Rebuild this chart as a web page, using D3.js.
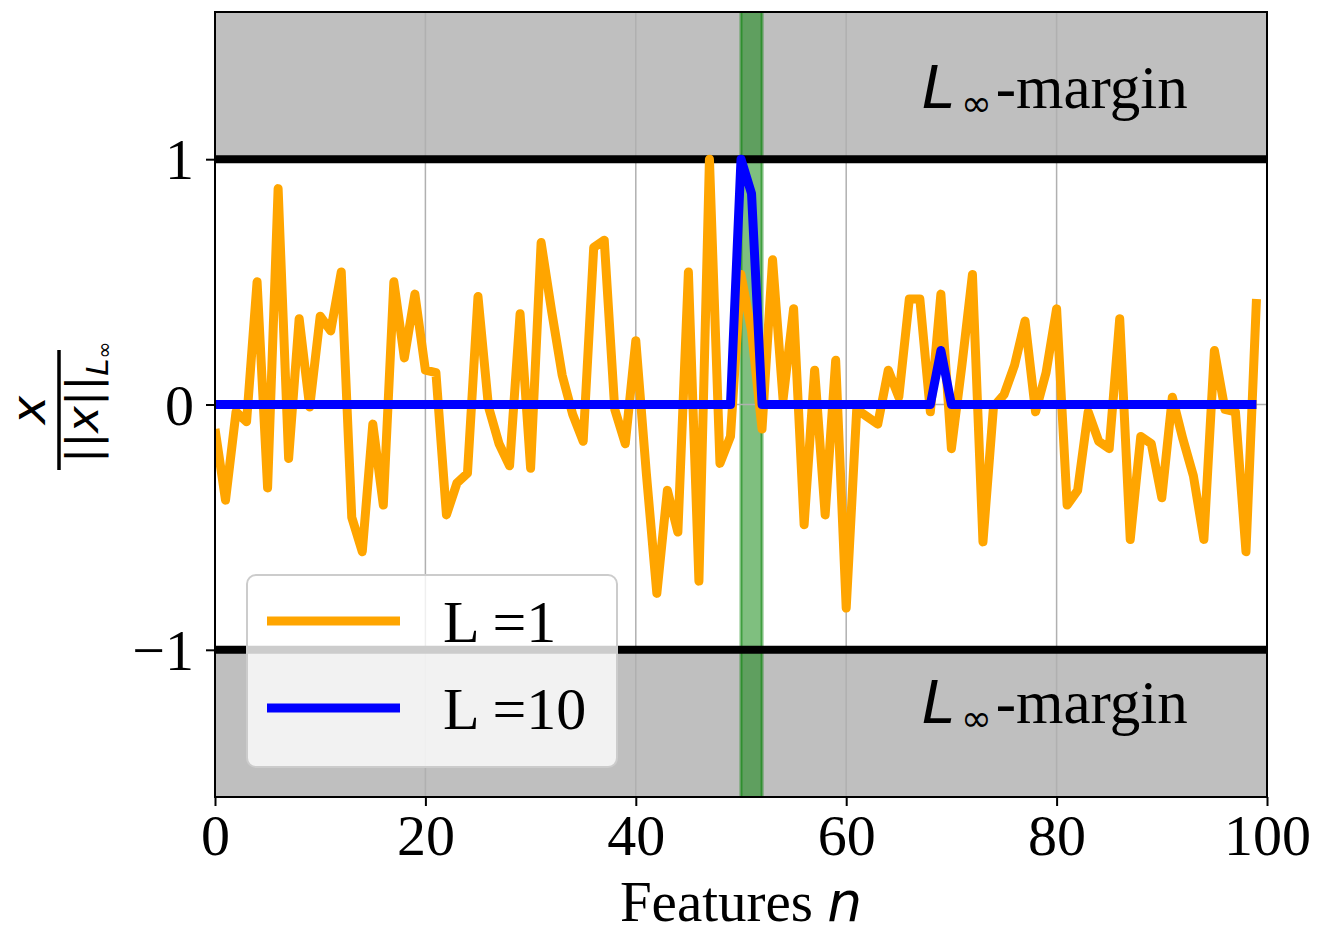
<!DOCTYPE html>
<html>
<head>
<meta charset="utf-8">
<script src="https://cdn.jsdelivr.net/npm/d3@7"></script>
<style>
  html, body { margin: 0; padding: 0; background: #fff; }
  svg { display: block; }
</style>
</head>
<body>
<svg id="chart" width="1322" height="934"></svg>
<script>
// ---------- data ----------
const features = d3.range(0, 100);
const seriesL1 = [
  -0.10, -0.39, -0.03, -0.07, 0.50, -0.34, 0.88, -0.22, 0.35, -0.01,
   0.36,  0.30,  0.54, -0.46, -0.60, -0.08, -0.41, 0.50, 0.19, 0.45,
   0.14,  0.13, -0.45, -0.32, -0.28,  0.44, -0.01, -0.16, -0.25, 0.37,
  -0.26,  0.66,  0.38,  0.12, -0.04, -0.15,  0.64,  0.67, -0.02, -0.16,
   0.26, -0.28, -0.77, -0.35, -0.52,  0.54, -0.72,  1.00, -0.24, -0.13,
   0.53,  0.30, -0.10,  0.59,  0.02,  0.39, -0.49,  0.14, -0.45, 0.18,
  -0.83, -0.02, -0.05, -0.08,  0.14,  0.03,  0.43,  0.43, -0.03, 0.45,
  -0.18,  0.16,  0.53, -0.56, -0.01,  0.04,  0.16,  0.34, -0.03, 0.13,
   0.39, -0.41, -0.35, -0.03, -0.15, -0.18,  0.35, -0.55, -0.13, -0.16,
  -0.38,  0.03, -0.14, -0.29, -0.55,  0.22, -0.02, -0.03, -0.60, 0.43
];
const seriesL10 = features.map(i => i === 50 ? 1.0 : i === 51 ? 0.86 : i === 69 ? 0.22 : 0);
const seriesNames = ["L =1", "L =10"];
const seriesColors = ["#ffa500", "#0000ff"];
const xTicks = [0, 20, 40, 60, 80, 100];
const yTicks = [-1, 0, 1];
const yTickLabels = ["\u22121", "0", "1"];
const marginBands = [[1, 1.6], [-1.6, -1]];
const highlightSpan = [50, 52];
const marginText = "-margin";

// ---------- layout ----------
const svg = d3.select("#chart");
const L = 215, R = 1267, T = 12, B = 797;
const x = d3.scaleLinear().domain([0, 100]).range([L, R]);
const y = d3.scaleLinear().domain([-1.6, 1.6]).range([B, T]);

svg.append("defs").append("clipPath").attr("id", "clip")
  .append("rect").attr("x", L).attr("y", T).attr("width", R - L).attr("height", B - T);

const plot = svg.append("g").attr("clip-path", "url(#clip)");

// gray margin bands
plot.selectAll("rect.band").data(marginBands).enter().append("rect")
  .attr("class", "band")
  .attr("x", L).attr("width", R - L)
  .attr("y", d => y(d[1])).attr("height", d => y(d[0]) - y(d[1]))
  .attr("fill", "#808080").attr("fill-opacity", 0.5);

// green highlight span
plot.append("rect")
  .attr("x", x(highlightSpan[0])).attr("width", x(highlightSpan[1]) - x(highlightSpan[0]))
  .attr("y", T - 5).attr("height", B - T + 10)
  .attr("fill", "#008000").attr("fill-opacity", 0.5)
  .attr("stroke", "#008000").attr("stroke-opacity", 0.5).attr("stroke-width", 3);

// grid
plot.selectAll("line.gx").data(xTicks).enter().append("line")
  .attr("x1", d => x(d)).attr("x2", d => x(d)).attr("y1", T).attr("y2", B)
  .attr("stroke", "#b0b0b0").attr("stroke-width", 1.5);
plot.selectAll("line.gy").data(yTicks).enter().append("line")
  .attr("y1", d => y(d)).attr("y2", d => y(d)).attr("x1", L).attr("x2", R)
  .attr("stroke", "#b0b0b0").attr("stroke-width", 1.5);

// black margin lines
plot.selectAll("line.hm").data([1, -1]).enter().append("line")
  .attr("x1", L).attr("x2", R).attr("y1", d => y(d)).attr("y2", d => y(d))
  .attr("stroke", "#000").attr("stroke-width", 8);

// series lines
const line = d3.line().x((d, i) => x(features[i])).y(d => y(d));
[seriesL1, seriesL10].forEach((s, k) => {
  plot.append("path").datum(s)
    .attr("d", line)
    .attr("fill", "none")
    .attr("stroke", seriesColors[k])
    .attr("stroke-width", 9)
    .attr("stroke-linejoin", "round")
    .attr("stroke-linecap", "butt");
});

// margin labels
const mathFont = "DejaVu Sans, sans-serif";
const serifFont = "Liberation Serif, Times New Roman, serif";
[[1.207, 922], [-1.297, 922]].forEach(([v, px]) => {
  const t = svg.append("text").attr("x", px).attr("y", y(v))
    .attr("font-family", serifFont).attr("font-size", 61).attr("fill", "#000");
  t.append("tspan").attr("font-family", mathFont).attr("font-style", "italic").attr("font-size", 59).text("L");
  t.append("tspan").attr("font-family", mathFont).attr("font-size", 37).attr("dx", 6).attr("dy", 8).text("\u221e");
  t.append("tspan").attr("dy", -8).attr("dx", 4).text(marginText);
});

// frame
svg.append("rect").attr("x", L).attr("y", T).attr("width", R - L).attr("height", B - T)
  .attr("fill", "none").attr("stroke", "#000").attr("stroke-width", 2);

// axes
const xAxis = d3.axisBottom(x).tickValues(xTicks).tickSize(9).tickPadding(8).tickFormat(d3.format("d"));
const gx = svg.append("g").attr("transform", `translate(0,${B})`).call(xAxis);
gx.select(".domain").remove();
gx.selectAll("line").attr("stroke", "#000").attr("stroke-width", 2);
gx.selectAll("text").attr("font-family", serifFont).attr("font-size", 58).attr("fill", "#000")
  .attr("dy", "0.71em");

const yAxis = d3.axisLeft(y).tickValues(yTicks).tickSize(9).tickPadding(12)
  .tickFormat((d, i) => yTickLabels[i]);
const gy = svg.append("g").attr("transform", `translate(${L},0)`).call(yAxis);
gy.select(".domain").remove();
gy.selectAll("line").attr("stroke", "#000").attr("stroke-width", 2);
gy.selectAll("text").attr("font-family", serifFont).attr("font-size", 58).attr("fill", "#000")
  .attr("dy", "0.34em");

// x label
const xl = svg.append("text").attr("x", (L + R) / 2).attr("y", 921).attr("text-anchor", "middle")
  .attr("font-family", serifFont).attr("font-size", 57).attr("fill", "#000");
xl.append("tspan").text("Features ");
xl.append("tspan").attr("font-family", mathFont).attr("font-style", "italic").attr("font-size", 55).text("n");

// y label (fraction, rotated)
const yl = svg.append("g").attr("transform", "translate(59,410) rotate(-90)");
yl.append("line").attr("x1", -60).attr("x2", 60).attr("y1", 0).attr("y2", 0)
  .attr("stroke", "#000").attr("stroke-width", 3.5);
yl.append("text").attr("x", 0).attr("y", -14).attr("text-anchor", "middle")
  .attr("font-family", mathFont).attr("font-style", "italic").attr("font-size", 48).text("x");
const den = yl.append("text").attr("x", -53).attr("y", 39)
  .attr("font-family", mathFont).attr("font-size", 45);
den.append("tspan").text("||");
den.append("tspan").attr("font-style", "italic").text("x");
den.append("tspan").text("||");
den.append("tspan").attr("font-style", "italic").attr("font-size", 31).attr("dy", 10).text("L");
den.append("tspan").attr("font-size", 20).attr("dy", 3).text("\u221e");

// legend
const lg = svg.append("g");
lg.append("rect").attr("x", 247).attr("y", 575).attr("width", 370).attr("height", 192)
  .attr("rx", 9).attr("fill", "#fff").attr("fill-opacity", 0.8)
  .attr("stroke", "#cccccc").attr("stroke-width", 2);
const rows = lg.selectAll("g.row").data(seriesNames).enter().append("g")
  .attr("transform", (d, i) => `translate(0,${621 + i * 87})`);
rows.append("line").attr("x1", 267).attr("x2", 400).attr("y1", 0).attr("y2", 0)
  .attr("stroke", (d, i) => seriesColors[i]).attr("stroke-width", 9);
rows.append("text").attr("x", 443).attr("y", 21)
  .attr("font-family", serifFont).attr("font-size", 60).attr("fill", "#000").text(d => d);
</script>
</body>
</html>
